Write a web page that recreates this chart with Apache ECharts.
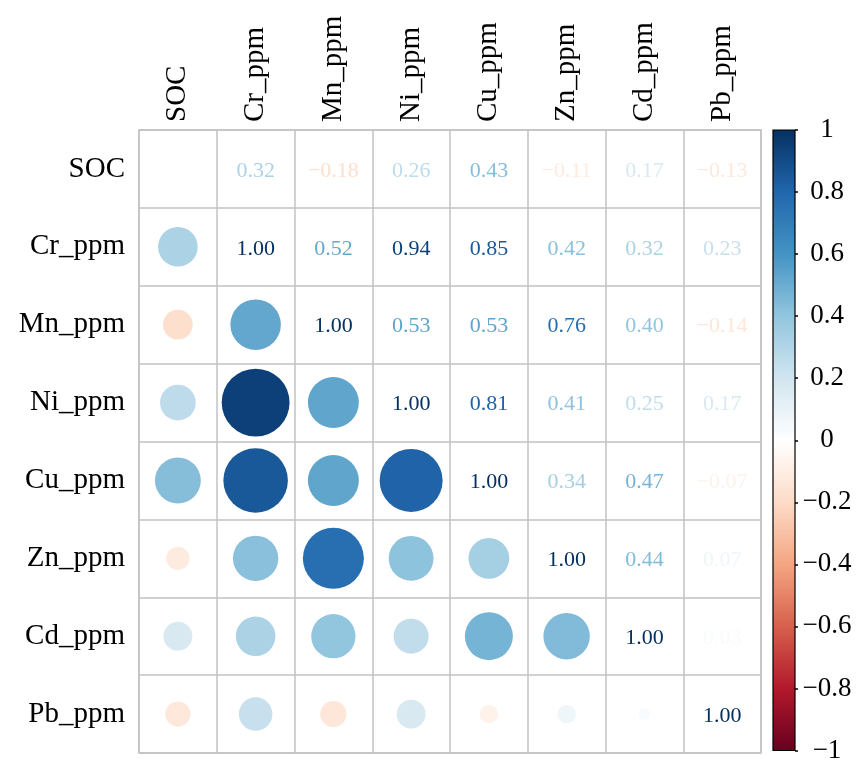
<!DOCTYPE html>
<html>
<head>
<meta charset="utf-8">
<script src="https://cdn.jsdelivr.net/npm/echarts@6/dist/echarts.min.js"></script>
<style>
html,body{margin:0;padding:0;background:#fff;}
#chart{width:857px;height:764px;}
</style>
</head>
<body>
<div id="chart"></div>
<script>
// Variable names (rows / columns)
const variables = ['SOC', 'Cr_ppm', 'Mn_ppm', 'Ni_ppm', 'Cu_ppm', 'Zn_ppm', 'Cd_ppm', 'Pb_ppm'];

// Correlation matrix rows
const r_SOC = [1.00, 0.32, -0.18, 0.26, 0.43, -0.11, 0.17, -0.13];
const r_Cr  = [0.32, 1.00, 0.52, 0.94, 0.85, 0.42, 0.32, 0.23];
const r_Mn  = [-0.18, 0.52, 1.00, 0.53, 0.53, 0.76, 0.40, -0.14];
const r_Ni  = [0.26, 0.94, 0.53, 1.00, 0.81, 0.41, 0.25, 0.17];
const r_Cu  = [0.43, 0.85, 0.53, 0.81, 1.00, 0.34, 0.47, -0.07];
const r_Zn  = [-0.11, 0.42, 0.76, 0.41, 0.34, 1.00, 0.44, 0.07];
const r_Cd  = [0.17, 0.32, 0.40, 0.25, 0.47, 0.44, 1.00, 0.03];
const r_Pb  = [-0.13, 0.23, -0.14, 0.17, -0.07, 0.07, 0.03, 1.00];
const corrRows = [r_SOC, r_Cr, r_Mn, r_Ni, r_Cu, r_Zn, r_Cd, r_Pb];

// Diagonal cells left blank
const blankCells = [[0, 0]];

// Colour bar tick range
const cbMin = -1, cbMax = 1, cbStep = 0.2;

// RdBu palette from -1 to 1
const rdbu = ['#67001F', '#B2182B', '#D6604D', '#F4A582', '#FDDBC7', '#FFFFFF',
              '#D1E5F0', '#92C5DE', '#4393C3', '#2166AC', '#053061'];

function hexToRgb(h) {
  return [parseInt(h.slice(1, 3), 16), parseInt(h.slice(3, 5), 16), parseInt(h.slice(5, 7), 16)];
}
function colorFor(v) {
  const t = (v - cbMin) / (cbMax - cbMin) * (rdbu.length - 1);
  const i = Math.max(0, Math.min(rdbu.length - 2, Math.floor(t)));
  const f = t - i;
  const a = hexToRgb(rdbu[i]), b = hexToRgb(rdbu[i + 1]);
  const c = a.map((x, k) => Math.round(x + (b[k] - x) * f));
  return 'rgb(' + c.join(',') + ')';
}
function fmt(v) {
  const s = Math.abs(v).toFixed(2);
  return v < 0 ? '\u2212' + s : s;
}

const circleData = [];
const textData = [];
corrRows.forEach((row, i) => {
  row.forEach((v, j) => {
    if (i > j) {
      circleData.push({ value: [j, i, v], itemStyle: { color: colorFor(v), opacity: 1 } });
    } else if (!blankCells.some(b => b[0] === i && b[1] === j)) {
      textData.push({ value: [j, i, v], label: { color: colorFor(v) } });
    }
  });
});

const FONT = '"Liberation Serif", "Times New Roman", serif';
const GRID_COLOR = '#C2C2C2';
const MAX_D = 70;

const chart = echarts.init(document.getElementById('chart'), null, { renderer: 'canvas' });
chart.setOption({
  backgroundColor: '#ffffff',
  animation: false,
  grid: [
    { left: 139, top: 130, width: 622, height: 623, show: true, borderColor: GRID_COLOR, borderWidth: 1.5, backgroundColor: 'transparent' },
    { left: 773, top: 130, width: 22, height: 622.5, show: false }
  ],
  xAxis: [
    {
      gridIndex: 0, type: 'category', data: variables, position: 'top', boundaryGap: true,
      axisLine: { show: false }, axisTick: { show: false },
      axisLabel: { rotate: -90, fontSize: 29, fontFamily: FONT, color: '#000', margin: 8, interval: 0 },
      splitLine: { show: true, interval: 0, lineStyle: { color: GRID_COLOR, width: 1.5 } }
    },
    { gridIndex: 1, type: 'category', data: ['cb'], show: false }
  ],
  yAxis: [
    {
      gridIndex: 0, type: 'category', data: variables, inverse: true, boundaryGap: true,
      axisLine: { show: false }, axisTick: { show: false },
      axisLabel: { fontSize: 29, fontFamily: FONT, color: '#000', margin: 14, interval: 0, padding: [4, 0, 0, 0] },
      splitLine: { show: true, interval: 0, lineStyle: { color: GRID_COLOR, width: 1.5 } }
    },
    {
      gridIndex: 1, type: 'value', min: cbMin, max: cbMax, interval: cbStep, position: 'right',
      axisLine: { show: false },
      axisTick: { show: true, inside: false, length: 3, lineStyle: { color: '#000', width: 1.5 } },
      splitLine: { show: false },
      axisLabel: {
        fontSize: 27, fontFamily: FONT, color: '#000', margin: 32, align: 'center',
        formatter: function (v) {
          const r = Math.round(v * 10) / 10;
          return r < 0 ? '\u2212' + Math.abs(r) : String(r);
        }
      }
    }
  ],
  series: [
    {
      type: 'scatter', xAxisIndex: 0, yAxisIndex: 0, data: circleData,
      symbol: 'circle',
      symbolSize: function (val) { return MAX_D * Math.sqrt(Math.abs(val[2])); },
      itemStyle: { opacity: 1 },
      silent: true
    },
    {
      type: 'scatter', xAxisIndex: 0, yAxisIndex: 0, data: textData,
      symbolSize: 0, itemStyle: { color: 'transparent', opacity: 1 },
      label: {
        show: true, position: 'inside', fontSize: 22, fontFamily: FONT, opacity: 1,
        offset: [0, 2],
        formatter: function (p) { return fmt(p.value[2]); }
      },
      silent: true
    },
    {
      type: 'custom', xAxisIndex: 1, yAxisIndex: 1, data: [[0, cbMax]],
      silent: true,
      renderItem: function (params, api) {
        const top = api.coord([0, cbMax]);
        const bottom = api.coord([0, cbMin]);
        const w = api.size([1, 0])[0];
        const stops = rdbu.map((c, k) => ({ offset: 1 - k / (rdbu.length - 1), color: c }))
                          .sort((a, b) => a.offset - b.offset);
        return {
          type: 'rect',
          shape: { x: top[0] - w / 2, y: top[1], width: w, height: bottom[1] - top[1] },
          style: {
            fill: new echarts.graphic.LinearGradient(0, 0, 0, 1, stops),
            stroke: '#000', lineWidth: 1.2
          }
        };
      }
    }
  ]
});
</script>
</body>
</html>
